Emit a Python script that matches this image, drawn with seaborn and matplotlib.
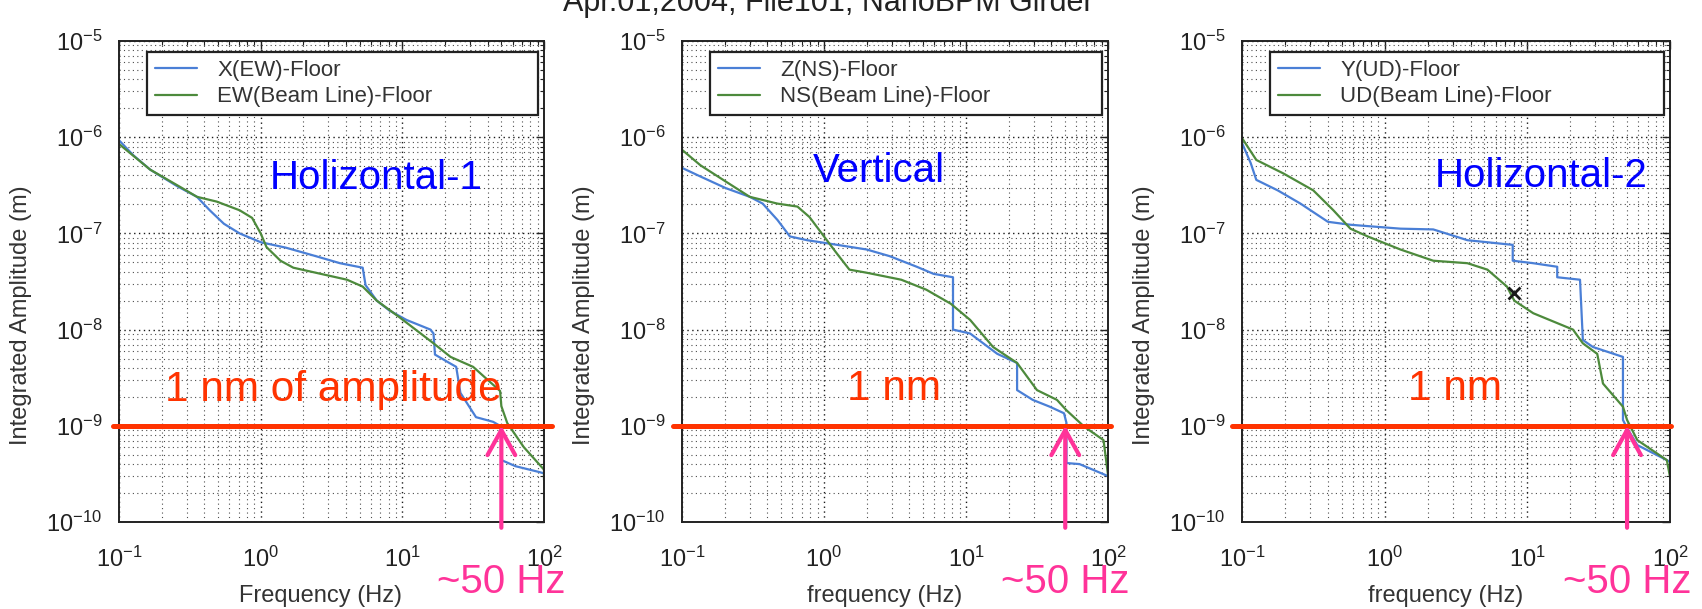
import matplotlib
matplotlib.use("Agg")
import matplotlib.pyplot as plt
import matplotlib.ticker as mticker
import matplotlib.transforms as mtrans
import pandas as pd
import seaborn as sns

# ---- Holizontal-1 (Hz / m)
h1_blue_freq = [0.100, 0.126, 0.166, 0.257, 0.355, 0.437, 0.55, 0.71, 1.0, 1.51, 2.45, 3.63, 5.25,
                5.5, 6.6, 8.1, 10.7, 15.8, 16.6, 17.0, 20.4, 24.0, 25.7, 33.1, 43.7, 50.1, 50.1,
                63.0, 93.0, 100.0]
h1_blue_amp = [9.3e-7, 6.5e-7, 4.6e-7, 3.1e-7, 2.4e-7, 1.74e-7, 1.26e-7, 1.0e-7, 8.1e-8, 7.1e-8,
               5.8e-8, 4.9e-8, 4.4e-8, 2.9e-8, 2.0e-8, 1.58e-8, 1.26e-8, 1.0e-8, 9.1e-9, 5.5e-9,
               4.7e-9, 4.1e-9, 2.2e-9, 1.23e-9, 1.10e-9, 9.8e-10, 4.4e-10, 3.8e-10, 3.3e-10, 3.2e-10]
h1_green_freq = [0.100, 0.166, 0.28, 0.355, 0.49, 0.71, 0.87, 1.0, 1.10, 1.38, 1.70, 2.45, 4.07,
                 5.25, 6.6, 9.5, 16.6, 21.9, 31.6, 49.0, 50.0, 55.0, 72.0, 100.0, 100.0]
h1_green_amp = [8.5e-7, 4.6e-7, 2.95e-7, 2.4e-7, 2.14e-7, 1.74e-7, 1.45e-7, 1.0e-7, 7.2e-8, 5.2e-8,
                4.4e-8, 3.9e-8, 3.3e-8, 2.8e-8, 2.0e-8, 1.35e-8, 7.2e-9, 5.2e-9, 4.1e-9, 2.3e-9,
                1.6e-9, 1.07e-9, 6.0e-10, 3.5e-10, 2.75e-10]

# ---- Vertical
v_blue_freq = [0.100, 0.135, 0.204, 0.30, 0.37, 0.47, 0.575, 0.76, 1.05, 2.0, 2.9, 4.5, 5.9, 8.1,
               8.1, 10.7, 16.6, 22.9, 22.9, 29.5, 38.9, 49.0, 51.0, 51.0, 63.0, 100.0]
v_blue_amp = [4.8e-7, 3.9e-7, 2.95e-7, 2.4e-7, 2.04e-7, 1.38e-7, 9.3e-8, 8.5e-8, 7.9e-8, 6.8e-8,
              5.8e-8, 4.5e-8, 3.8e-8, 3.5e-8, 1.0e-8, 9.1e-9, 5.6e-9, 4.5e-9, 2.35e-9, 1.86e-9,
              1.58e-9, 1.35e-9, 1.07e-9, 4.1e-10, 4.0e-10, 3.0e-10]
v_green_freq = [0.100, 0.135, 0.195, 0.30, 0.47, 0.65, 0.79, 1.0, 1.23, 1.51, 2.0, 3.5, 5.25, 7.8,
                10.7, 15.5, 22.9, 31.6, 43.7, 51.0, 68.0, 93.0, 100.0]
v_green_amp = [7.4e-7, 5.1e-7, 3.6e-7, 2.4e-7, 2.04e-7, 1.9e-7, 1.48e-7, 9.3e-8, 6.2e-8, 4.2e-8,
               3.9e-8, 3.3e-8, 2.6e-8, 1.86e-8, 1.26e-8, 6.6e-9, 4.5e-9, 2.35e-9, 1.86e-9, 1.45e-9,
               9.8e-10, 7.1e-10, 3.1e-10]

# ---- Holizontal-2
h2_blue_freq = [0.100, 0.115, 0.126, 0.178, 0.257, 0.40, 0.575, 1.29, 2.19, 3.0, 3.8, 7.9, 7.9,
                11.0, 16.2, 16.2, 23.4, 24.5, 28.8, 46.8, 46.8, 50.0, 59.0, 95.0, 100.0]
h2_blue_amp = [8.7e-7, 5.4e-7, 3.6e-7, 2.8e-7, 2.04e-7, 1.32e-7, 1.23e-7, 1.12e-7, 1.10e-7, 9.5e-8,
               8.5e-8, 7.6e-8, 5.2e-8, 4.9e-8, 4.5e-8, 3.5e-8, 3.3e-8, 7.8e-9, 6.6e-9, 5.2e-9,
               1.15e-9, 9.5e-10, 6.3e-10, 4.4e-10, 4.2e-10]
h2_green_freq = [0.100, 0.126, 0.195, 0.316, 0.437, 0.575, 0.76, 1.29, 2.19, 3.8, 5.25, 7.2, 8.1,
                 11.0, 20.9, 24.5, 30.9, 33.9, 46.8, 50.0, 59.0, 95.0, 100.0]
h2_green_amp = [9.8e-7, 5.8e-7, 4.2e-7, 2.8e-7, 1.74e-7, 1.12e-7, 9.3e-8, 6.8e-8, 5.2e-8, 4.9e-8,
                4.2e-8, 2.8e-8, 2.0e-8, 1.48e-8, 1.0e-8, 7.2e-9, 5.6e-9, 2.75e-9, 1.58e-9, 1.15e-9,
                7.1e-10, 4.4e-10, 2.95e-10]

legend_blue = ["X(EW)-Floor", "Z(NS)-Floor", "Y(UD)-Floor"]
legend_green = ["EW(Beam Line)-Floor", "NS(Beam Line)-Floor", "UD(Beam Line)-Floor"]
panel_names = ["Holizontal-1", "Vertical", "Holizontal-2"]
nm_labels = ["1 nm of amplitude", "1 nm", "1 nm"]
x_labels = ["Frequency (Hz)", "frequency (Hz)", "frequency (Hz)"]
y_label = "Integrated Amplitude (m)"
one_nm = 1e-9
marker_freq = 50.0
x_ticks = [1e-1, 1e0, 1e1, 1e2]
x_ticklabels = ["$10^{-1}$", "$10^{0}$", "$10^{1}$", "$10^{2}$"]
y_ticks = [1e-10, 1e-9, 1e-8, 1e-7, 1e-6, 1e-5]
y_ticklabels = ["$10^{-10}$", "$10^{-9}$", "$10^{-8}$", "$10^{-7}$", "$10^{-6}$", "$10^{-5}$"]
glitch_freq = [8.0]
glitch_amp = [2.4e-8]

BLUE = "#4a7fd6"
GREEN = "#4d8a3c"
RED = "#ff3300"
PINK = "#ff3399"

sns.set_theme(style="white")
plt.rcParams["font.family"] = ["Liberation Sans", "DejaVu Sans"]
plt.rcParams["mathtext.fontset"] = "custom"
plt.rcParams["mathtext.rm"] = "Liberation Sans"
plt.rcParams["mathtext.default"] = "regular"

fig = plt.figure(figsize=(17.02, 6.09), dpi=100)

W, H = 1702, 609
boxes = [(119, 425), (682, 426), (1242, 428)]
name_pos = [(0.355, 0.715), (0.307, 0.730), (0.451, 0.719)]
nm_pos = [(0.108, 0.274), (0.387, 0.277), (0.388, 0.277)]
red_span = [(-0.014, 1.019), (-0.021, 1.007), (-0.023, 1.002)]

series = [
    (h1_blue_freq, h1_blue_amp, h1_green_freq, h1_green_amp),
    (v_blue_freq, v_blue_amp, v_green_freq, v_green_amp),
    (h2_blue_freq, h2_blue_amp, h2_green_freq, h2_green_amp),
]

for i, (left, width) in enumerate(boxes):
    ax = fig.add_axes([left / W, 87 / H, width / W, 481 / H])
    bf, ba, gf, ga = series[i]
    df_b = pd.DataFrame({"freq": bf, "amp": ba})
    df_g = pd.DataFrame({"freq": gf, "amp": ga})
    sns.lineplot(data=df_b, x="freq", y="amp", ax=ax, color=BLUE, lw=1.6,
                 estimator=None, sort=False, label=legend_blue[i])
    sns.lineplot(data=df_g, x="freq", y="amp", ax=ax, color=GREEN, lw=1.6,
                 estimator=None, sort=False, label=legend_green[i])
    if i == 2:
        ax.plot(glitch_freq, glitch_amp, "x", color="k", ms=9, mew=2)

    ax.set_xscale("log")
    ax.set_yscale("log")
    ax.set_xlim(1e-1, 1e2)
    ax.set_ylim(1e-10, 1e-5)
    ax.xaxis.set_major_locator(mticker.FixedLocator(x_ticks))
    ax.xaxis.set_major_formatter(mticker.FixedFormatter(x_ticklabels))
    ax.yaxis.set_major_locator(mticker.FixedLocator(y_ticks))
    ax.yaxis.set_major_formatter(mticker.FixedFormatter(y_ticklabels))
    ax.xaxis.set_minor_locator(mticker.LogLocator(base=10, subs=range(2, 10), numticks=20))
    ax.yaxis.set_minor_locator(mticker.LogLocator(base=10, subs=range(2, 10), numticks=20))
    ax.xaxis.set_minor_formatter(mticker.NullFormatter())
    ax.yaxis.set_minor_formatter(mticker.NullFormatter())
    ax.tick_params(which="both", direction="in", top=True, right=True, colors="#222222")
    ax.tick_params(which="major", length=6, width=1.0, labelsize=17)
    ax.tick_params(which="minor", length=3, width=0.8)
    ax.tick_params(axis="x", which="major", pad=18)
    ax.tick_params(axis="y", which="major", pad=12)
    ax.grid(True, which="major", color="k", ls=(0, (1, 2.5)), lw=1.0)
    ax.grid(True, which="minor", color="0.3", ls=(0, (1, 3)), lw=0.8)
    for s in ax.spines.values():
        s.set_color("#222222")
        s.set_linewidth(1.4)

    ax.set_xlabel(x_labels[i], fontsize=17, color="#333333", va="center")
    ax.set_ylabel(y_label, fontsize=17, color="#333333", va="center")
    ax.xaxis.set_label_coords(0.475, -0.154)
    ax.yaxis.set_label_coords(-98 / width, 0.43)

    leg = ax.legend(loc="upper left", bbox_to_anchor=(0.066, 0.5, 0.92, 0.477), mode="expand",
                    fontsize=16, frameon=True, fancybox=False, framealpha=1, edgecolor="#222222",
                    handlelength=1.9, handletextpad=0.9, borderpad=0.35, labelspacing=0.25,
                    borderaxespad=0)
    leg.get_frame().set_linewidth(1.6)
    for t in leg.get_texts():
        t.set_color("#333333")

    # 1 nm line, annotations
    ax.axhline(one_nm, xmin=red_span[i][0], xmax=red_span[i][1], color=RED, lw=3.6,
               clip_on=False, zorder=5)
    ax.text(*name_pos[i], panel_names[i], transform=ax.transAxes, color="#0000ff",
            fontsize=29, va="center", ha="left", zorder=6)
    ax.text(*nm_pos[i], nm_labels[i], transform=ax.transAxes, color=RED,
            fontsize=30.5, va="center", ha="left", zorder=6)
    trans = mtrans.blended_transform_factory(ax.transData, ax.transAxes)
    ax.annotate("", xy=(marker_freq, one_nm), xycoords="data",
                xytext=(marker_freq, -0.012), textcoords=trans,
                arrowprops=dict(arrowstyle="->,head_length=0.9,head_width=0.5",
                                color=PINK, lw=3, mutation_scale=20, shrinkA=0, shrinkB=0),
                annotation_clip=False, zorder=7)
    ftrans = mtrans.blended_transform_factory(ax.transData, fig.transFigure)
    ax.text(marker_freq, 1 - 593 / H, "~50 Hz", transform=ftrans, color=PINK, fontsize=29,
            ha="center", va="baseline", zorder=7, clip_on=False)

fig.text(828 / W, 1 - 11 / H, "Apr.01,2004, File101, NanoBPM Girder", fontsize=22,
         ha="center", va="baseline", color="#222222")

fig.savefig("out.png", dpi=100)
